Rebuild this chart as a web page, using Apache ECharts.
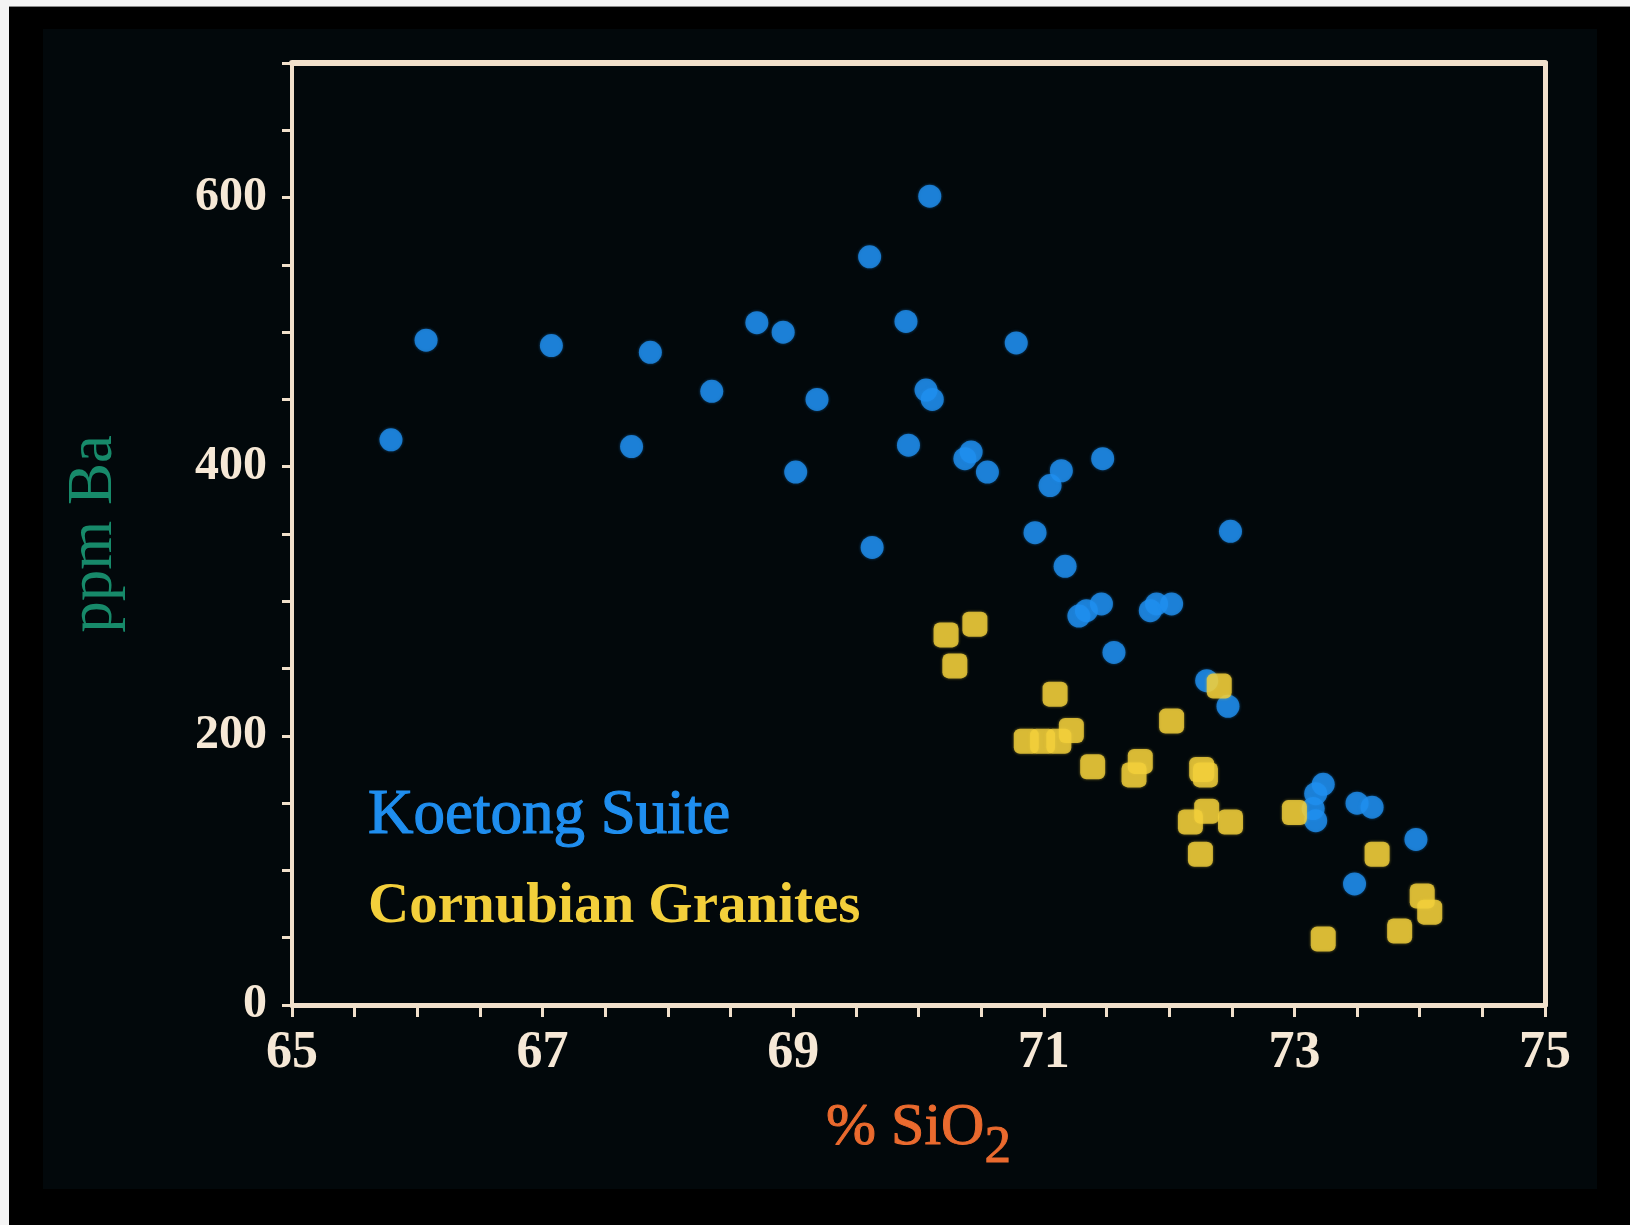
<!DOCTYPE html>
<html>
<head>
<meta charset="utf-8">
<title>Ba vs SiO2</title>
<script src="https://cdn.jsdelivr.net/npm/echarts@6/dist/echarts.min.js"></script>
<style>
  html, body { margin: 0; padding: 0; background: #000; }
  #chart { width: 1630px; height: 1225px; }
</style>
</head>
<body>
<div id="chart"></div>
<script>
// Koetong Suite: SiO2 (wt %) and Ba (ppm)
const koetongSiO2 = [65.79, 66.07, 67.07, 67.71, 67.86, 68.35, 68.71, 68.92, 69.02, 69.19,
  69.61, 69.63, 69.90, 69.92, 70.09, 70.06, 70.11, 70.37, 70.42, 70.55,
  70.78, 70.93, 71.05, 71.14, 71.17, 71.47, 71.28, 71.34, 71.46, 71.56,
  71.85, 71.90, 72.02, 72.49, 72.30, 72.47, 73.17, 73.15, 73.17, 73.23,
  73.50, 73.62, 73.48, 73.97];
const koetongBa = [420, 494, 490, 415, 485, 456, 507, 500, 396, 450,
  556, 340, 508, 416, 601, 457, 450, 406, 411, 396,
  492, 351, 386, 397, 326, 406, 289, 293, 298, 262,
  293, 298, 298, 352, 241, 222, 157, 146, 137, 164,
  150, 147, 90, 123];

// Cornubian Granites: SiO2 (wt %) and Ba (ppm)
const cornubianSiO2 = [70.22, 70.29, 70.45, 71.09, 70.86, 70.99, 71.12, 71.22, 71.39, 71.72,
  71.77, 72.02, 72.26, 72.29, 72.40, 72.17, 72.30, 72.49, 72.25, 73.00,
  73.66, 74.02, 74.08, 73.84, 73.23];
const cornubianBa = [275, 252, 283, 231, 196, 196, 196, 204, 177, 171,
  181, 211, 175, 171, 237, 136, 144, 136, 112, 143,
  112, 81, 69, 55, 49];

// Labelled ticks
const xTickLabels = [65, 67, 69, 71, 73, 75];
const yTickLabels = [0, 200, 400, 600];

const seriesNames = ['Koetong Suite', 'Cornubian Granites'];

const pairs = (xs, ys) => xs.map((x, i) => [x, ys[i]]);

const AXIS = '#f1e0cb';
const LABEL = '#f6e8d6';
const SERIF = '"Liberation Serif", "DejaVu Serif", serif';
const BLUE = '#1f8eef';
const GOLD = '#f3cf3b';
const ORANGE = '#ea6a2e';

const chart = echarts.init(document.getElementById('chart'), null, { renderer: 'canvas' });

const option = {
  backgroundColor: '#000',
  animation: false,
  graphic: [
    { type: 'rect', z: -10, silent: true, shape: { x: 43, y: 29, width: 1554, height: 1160 }, style: { fill: '#02080b' } },
    { type: 'rect', z: -10, silent: true, shape: { x: 0, y: 0, width: 1630, height: 6 }, style: { fill: '#f4f4f4' } },
    { type: 'rect', z: -10, silent: true, shape: { x: 0, y: 6, width: 1630, height: 1 }, style: { fill: '#8a8a8a' } },
    { type: 'rect', z: -10, silent: true, shape: { x: 0, y: 0, width: 9, height: 1225 }, style: { fill: '#f4f4f4' } }
  ],
  grid: { left: 292, right: 85, top: 63, bottom: 220, containLabel: false },
  legend: {
    orient: 'vertical',
    left: 358,
    top: 776,
    itemWidth: 0,
    itemHeight: 0,
    itemGap: 21,
    selectedMode: false,
    icon: 'rect',
    data: [
      { name: seriesNames[0], textStyle: { color: BLUE, fontSize: 63, fontFamily: SERIF, fontWeight: 'normal', lineHeight: 70, textBorderColor: BLUE, textBorderWidth: 1.2 } },
      { name: seriesNames[1], textStyle: { color: GOLD, fontSize: 57, fontFamily: SERIF, fontWeight: 'bold', lineHeight: 70 } }
    ]
  },
  xAxis: [
    {
      type: 'value',
      min: 65,
      max: 75,
      interval: 0.5,
      position: 'bottom',
      name: '{a|% SiO}{b|2}',
      nameLocation: 'middle',
      nameGap: 93,
      nameTextStyle: {
        rich: {
          a: { fontSize: 60, fontFamily: SERIF, color: ORANGE, textBorderColor: ORANGE, textBorderWidth: 1, lineHeight: 60, verticalAlign: 'top' },
          b: { fontSize: 53, fontFamily: SERIF, color: ORANGE, textBorderColor: ORANGE, textBorderWidth: 1, lineHeight: 60, padding: [24, 0, 0, 0], verticalAlign: 'top' }
        }
      },
      axisLine: { show: true, onZero: false, lineStyle: { color: AXIS, width: 5 } },
      axisTick: { show: true, inside: false, length: 12, lineStyle: { color: AXIS, width: 3 } },
      axisLabel: {
        margin: 23,
        color: LABEL,
        fontSize: 52,
        fontWeight: 'bold',
        fontFamily: SERIF,
        formatter: v => (xTickLabels.some(t => Math.abs(t - v) < 1e-6) ? String(v) : '')
      },
      splitLine: { show: false }
    },
    {
      type: 'value',
      min: 65,
      max: 75,
      position: 'top',
      axisLine: { show: true, onZero: false, lineStyle: { color: AXIS, width: 6 } },
      axisTick: { show: false },
      axisLabel: { show: false },
      splitLine: { show: false }
    }
  ],
  yAxis: [
    {
      type: 'value',
      min: 0,
      max: 700,
      interval: 50,
      position: 'left',
      name: 'ppm Ba',
      nameLocation: 'middle',
      nameGap: 166,
      nameTextStyle: { color: '#178a6a', fontSize: 63, fontFamily: SERIF },
      axisLine: { show: true, onZero: false, lineStyle: { color: AXIS, width: 4 } },
      axisTick: { show: true, inside: false, length: 10, lineStyle: { color: AXIS, width: 3 } },
      axisLabel: {
        margin: 25,
        color: LABEL,
        fontSize: 48,
        fontWeight: 'bold',
        fontFamily: SERIF,
        formatter: v => (yTickLabels.includes(v) ? String(v) : '')
      },
      splitLine: { show: false }
    },
    {
      type: 'value',
      min: 0,
      max: 700,
      position: 'right',
      axisLine: { show: true, onZero: false, lineStyle: { color: AXIS, width: 5 } },
      axisTick: { show: false },
      axisLabel: { show: false },
      splitLine: { show: false }
    }
  ],
  series: [
    {
      name: seriesNames[0],
      type: 'scatter',
      xAxisIndex: 0,
      yAxisIndex: 0,
      symbol: 'circle',
      symbolSize: 23,
      itemStyle: { color: BLUE, shadowColor: 'rgba(31,142,239,0.6)', shadowBlur: 3 },
      data: pairs(koetongSiO2, koetongBa)
    },
    {
      name: seriesNames[1],
      type: 'scatter',
      xAxisIndex: 0,
      yAxisIndex: 0,
      symbol: 'roundRect',
      symbolSize: 25,
      itemStyle: { color: GOLD, shadowColor: 'rgba(243,207,59,0.6)', shadowBlur: 3 },
      data: pairs(cornubianSiO2, cornubianBa)
    }
  ]
};

chart.setOption(option);
</script>
</body>
</html>
